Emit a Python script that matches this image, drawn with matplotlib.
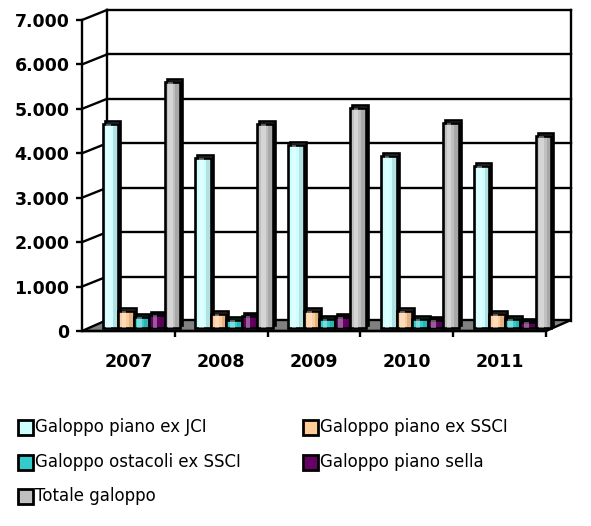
import numpy as np
import matplotlib
matplotlib.use("Agg")
import matplotlib.pyplot as plt
from matplotlib.transforms import offset_copy
from matplotlib.patches import Polygon, Rectangle

# data
years = ["2007", "2008", "2009", "2010", "2011"]
series = ["Galoppo piano ex JCI", "Galoppo piano ex SSCI", "Galoppo ostacoli ex SSCI",
          "Galoppo piano sella", "Totale galoppo"]
piano_jci = [4600, 3830, 4130, 3880, 3650]
piano_ssci = [390, 320, 390, 380, 320]
ostacoli_ssci = [240, 190, 210, 200, 200]
piano_sella = [300, 260, 240, 190, 140]
totale = [5540, 4590, 4950, 4620, 4330]
yticks = [0, 1000, 2000, 3000, 4000, 5000, 6000, 7000]
ytick_labels = ["0", "1.000", "2.000", "3.000", "4.000", "5.000", "6.000", "7.000"]

values = [piano_jci, piano_ssci, ostacoli_ssci, piano_sella, totale]
colors = ["#CCFFFF", "#FFCC99", "#33CCCC", "#660066", "#C0C0C0"]
dark = ["#88BBBB", "#BB8855", "#1A8888", "#330033", "#808080"]

W, H = 591, 526
fig = plt.figure(figsize=(W / 100, H / 100), dpi=100)
ax = fig.add_axes([82 / W, (H - 331) / H, (546 - 82) / W, (331 - 20) / H])
ax.set_xlim(0, 5)
ax.set_ylim(0, 7000)
ax.patch.set_alpha(0)

lw = 1.7
# back wall / floor offset (pixels)
back = offset_copy(ax.transData, fig=fig, x=25, y=10, units="dots")
floor_back = offset_copy(ax.transData, fig=fig, x=25, y=11, units="dots")

for v in yticks[1:]:
    ax.plot([0, 5], [v, v], color="black", lw=lw, transform=back, zorder=1, clip_on=False)
ax.plot([0, 0], [0, 7000], color="black", lw=lw, transform=back, zorder=1, clip_on=False)
ax.plot([5, 5], [0, 7000], color="black", lw=lw, transform=back, zorder=1, clip_on=False)

# left side wall connectors
for v in yticks[1:]:
    p0 = ax.transData.transform((0, v))
    p1 = back.transform((0, v))
    ax.plot([p0[0], p1[0]], [p0[1], p1[1]], color="black", lw=lw, transform=None,
            zorder=1, clip_on=False)

# floor
f0 = ax.transData.transform([(0, 0), (5, 0)])
f1 = floor_back.transform([(5, 0), (0, 0)])
ax.add_patch(Polygon(np.vstack([f0, f1]), closed=True, facecolor="#808080",
                     edgecolor="black", lw=lw, transform=None, zorder=2, clip_on=False))

# columns
bw = 0.167
x = np.arange(len(years)) + 0.5
front = offset_copy(ax.transData, fig=fig, x=13, y=3, units="dots")
behind = offset_copy(ax.transData, fig=fig, x=15, y=6, units="dots")
for j, vals in enumerate(values):
    pos = x + (j - 2) * bw
    ax.bar(pos, vals, width=bw, color=dark[j], edgecolor="black", lw=1.9,
           transform=behind, zorder=3, clip_on=False)
for j, vals in enumerate(values):
    pos = x + (j - 2) * bw
    ax.bar(pos, vals, width=bw, color=colors[j], edgecolor="black", lw=1.9,
           transform=front, zorder=4, clip_on=False)
    # simple shading: light stripe left of centre, darker stripe on the right
    ax.bar(pos - bw * 0.12, vals, width=bw * 0.3, color="white", alpha=0.35, lw=0,
           transform=front, zorder=4, clip_on=False)
    ax.bar(pos + bw * 0.32, vals, width=bw * 0.25, color="black", alpha=0.12, lw=0,
           transform=front, zorder=4, clip_on=False)

# axes lines and ticks
for s in ["top", "right"]:
    ax.spines[s].set_visible(False)
ax.spines["left"].set_linewidth(lw)
ax.spines["bottom"].set_linewidth(lw)
ax.spines["left"].set_zorder(6)
ax.spines["bottom"].set_zorder(6)
ax.set_yticks(yticks)
ax.set_yticklabels(ytick_labels)
ax.set_xticks(range(1, 6))
ax.set_xticklabels([])
ax.set_xticks(x, minor=True)
ax.set_xticklabels(years, minor=True)
ax.tick_params(axis="y", length=4, width=lw, pad=5, labelsize=12.5)
ax.tick_params(axis="x", which="major", length=4, width=lw)
ax.tick_params(axis="x", which="minor", length=0, pad=16, labelsize=12.5)
for t in ax.get_yticklabels() + ax.get_xticklabels(minor=True):
    t.set_fontweight("bold")

# legend, two columns
col_x = [18, 303]
row_y = [427, 462, 496]
for k in range(len(series)):
    cx = col_x[k % 2]
    cy = row_y[k // 2]
    fig.patches.append(Rectangle((cx / W, (H - cy - 7.5) / H), 15 / W, 15 / H,
                                 facecolor=colors[k], edgecolor="black", lw=2,
                                 transform=fig.transFigure, figure=fig))
    fig.text((cx + 17) / W, (H - cy) / H, series[k], fontsize=12, va="center", ha="left")

fig.savefig("out.png", dpi=100)
